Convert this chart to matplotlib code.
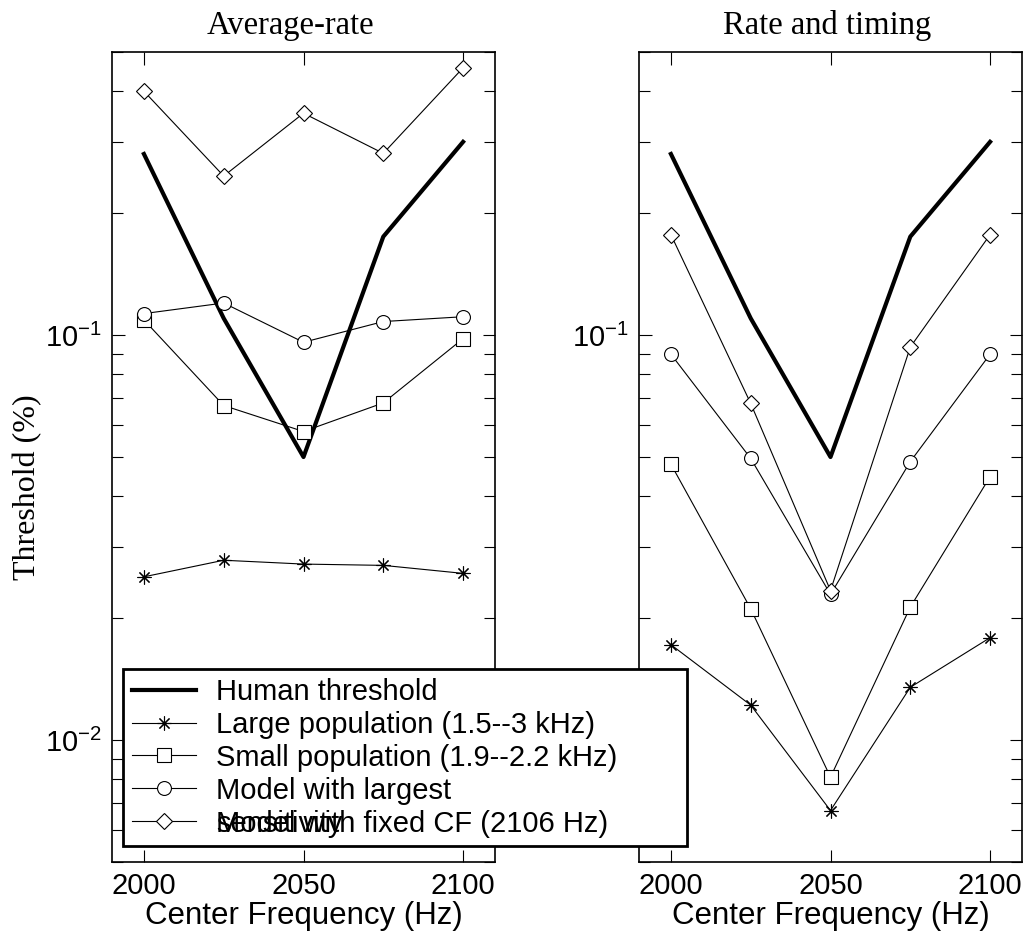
import matplotlib
matplotlib.use("Agg")
import matplotlib.pyplot as plt
from matplotlib.ticker import LogLocator, NullFormatter, FixedLocator

plt.rcParams['font.family'] = ['Liberation Sans', 'DejaVu Sans']
plt.rcParams['mathtext.fontset'] = 'custom'
plt.rcParams['mathtext.rm'] = 'Liberation Sans'
plt.rcParams['mathtext.default'] = 'regular'
plt.rcParams['axes.unicode_minus'] = False

# Center frequencies (Hz)
freqs = [2000, 2025, 2050, 2075, 2100]

# Thresholds (%)
human = [0.28, 0.11, 0.05, 0.175, 0.30]

rate_large = [0.0253, 0.0278, 0.0272, 0.0270, 0.0258]
rate_small = [0.109, 0.067, 0.0578, 0.068, 0.098]
rate_best = [0.113, 0.120, 0.096, 0.108, 0.111]
rate_fixed = [0.40, 0.247, 0.353, 0.281, 0.457]

timing_large = [0.0172, 0.0122, 0.0067, 0.0135, 0.0179]
timing_small = [0.048, 0.0211, 0.0081, 0.0213, 0.0447]
timing_best = [0.0897, 0.0496, 0.0229, 0.0487, 0.0897]
timing_fixed = [0.177, 0.0678, 0.0234, 0.0934, 0.177]

labels = ['Human threshold',
          'Large population (1.5--3 kHz)',
          'Small population (1.9--2.2 kHz)',
          'Model with largest',
          'Model with fixed CF (2106 Hz)']

titles = ['Average-rate', 'Rate and timing']

W, H = 1023, 939
fig = plt.figure(figsize=(W / 100, H / 100), dpi=100)
ax1 = fig.add_axes([112 / W, 1 - 862 / H, 383 / W, 810 / H])
ax2 = fig.add_axes([639 / W, 1 - 862 / H, 383 / W, 810 / H])

asterisk = (8, 2, 0)
thin = dict(color='black', lw=0.8, mfc='white', mec='black', mew=0.8)

panels = [(ax1, rate_large, rate_small, rate_best, rate_fixed),
          (ax2, timing_large, timing_small, timing_best, timing_fixed)]

handles = None
for i, (ax, large, small, best, fixed) in enumerate(panels):
    h0, = ax.plot(freqs, human, color='black', lw=3)
    h1, = ax.plot(freqs, large, marker=asterisk, ms=10, **thin)
    h2, = ax.plot(freqs, small, marker='s', ms=10, **thin)
    h3, = ax.plot(freqs, best, marker='o', ms=10, **thin)
    h4, = ax.plot(freqs, fixed, marker='D', ms=8.5, **thin)
    if handles is None:
        handles = [h0, h1, h2, h3, h4]

    ax.set_yscale('log')
    ax.set_ylim(0.005, 0.5)
    ax.set_xlim(1990, 2110)
    ax.xaxis.set_major_locator(FixedLocator([2000, 2050, 2100]))
    ax.yaxis.set_major_locator(LogLocator(base=10))
    ax.yaxis.set_minor_locator(LogLocator(base=10, subs=range(2, 10)))
    ax.yaxis.set_minor_formatter(NullFormatter())
    ax.tick_params(which='both', direction='in', top=True, right=True,
                   width=0.8, labelsize=21)
    ax.tick_params(which='major', length=9)
    ax.tick_params(which='minor', length=8)
    ax.tick_params(axis='y', pad=7)
    ax.tick_params(axis='x', pad=7)
    for s in ax.spines.values():
        s.set_linewidth(1.2)
    ax.set_xlabel('Center Frequency (Hz)', fontsize=22.5, labelpad=1)

ax1.set_title(titles[0], family='Liberation Serif', fontsize=23.5, pad=13,
              x=0.467)
ax2.set_title(titles[1], family='Liberation Serif', fontsize=23.5, pad=13,
              x=0.49)

ax1.set_ylabel('Threshold (%)', family='Liberation Serif', fontsize=23)
ax1.yaxis.set_label_coords(-0.183, 0.463)

leg = fig.legend(handles, labels, loc='upper left',
                 bbox_to_anchor=(123 / W, 1 - 669 / H, (687 - 123) / W, 0),
                 bbox_transform=fig.transFigure, mode='expand',
                 borderaxespad=0, fontsize=21, numpoints=1,
                 handlelength=2.2, handletextpad=0.7, labelspacing=0.17,
                 borderpad=0.3, fancybox=False, framealpha=1,
                 edgecolor='black')
leg.get_frame().set_linewidth(2)

# the second line of the fourth label overlaps the fifth entry
fig.canvas.draw()
bb = leg.get_texts()[4].get_window_extent()
fig.text(bb.x0 / W, bb.y0 / H, 'sensitivity', fontsize=21,
         ha='left', va='bottom', zorder=6)

fig.savefig('out.png', dpi=100)
